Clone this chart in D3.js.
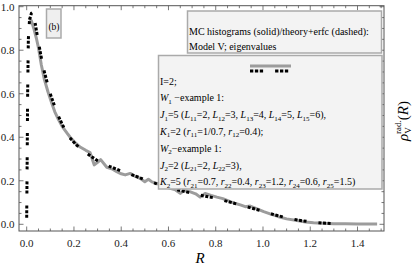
<!DOCTYPE html>
<html><head><meta charset="utf-8">
<script src="https://cdn.jsdelivr.net/npm/d3@7"></script>
<style>body{margin:0;background:#fff}svg{display:block}</style>
</head><body>
<script>
// MC histogram (solid gray)
const histX = [0.01,0.02,0.03,0.041,0.05,0.062,0.075,0.09,0.105,0.119,0.135,0.15,0.17,0.184,0.205,0.226,0.25,0.268,0.286,0.30,0.313,0.339,0.36,0.381,0.40,0.417,0.438,0.46,0.48,0.50,0.515,0.53,0.55,0.58,0.607,0.63,0.65,0.664,0.69,0.715,0.734,0.755,0.78,0.805,0.83,0.861,0.88,0.904,0.925,0.946,0.97,1.003,1.03,1.066,1.10,1.144,1.18,1.214,1.25,1.30,1.35,1.40,1.45,1.483];
const histY = [0.95,0.935,0.90,0.855,0.81,0.732,0.665,0.609,0.56,0.517,0.48,0.45,0.42,0.40,0.375,0.355,0.34,0.33,0.273,0.285,0.297,0.262,0.255,0.242,0.232,0.227,0.234,0.22,0.211,0.196,0.207,0.195,0.188,0.176,0.165,0.158,0.142,0.155,0.15,0.14,0.125,0.142,0.133,0.125,0.118,0.104,0.097,0.089,0.081,0.084,0.073,0.058,0.048,0.035,0.025,0.017,0.011,0.007,0.005,0.003,0.002,0.001,0.001,0.001];
// theory + erfc (dashed black)
const theoX = [0.0,0.002,0.004,0.007,0.012,0.02,0.027,0.035,0.048,0.069,0.098,0.128,0.15,0.176,0.21,0.254,0.30,0.353,0.40,0.452,0.50,0.55,0.6,0.65,0.7,0.75,0.8,0.85,0.9,0.95,1.0,1.05,1.1,1.15,1.2,1.25,1.3];
const theoY = [0.03,0.3,0.6,0.85,0.94,0.97,0.975,0.93,0.847,0.724,0.605,0.512,0.46,0.405,0.365,0.326,0.292,0.265,0.245,0.225,0.205,0.186,0.168,0.155,0.143,0.13,0.12,0.105,0.09,0.075,0.06,0.043,0.03,0.019,0.011,0.006,0.003];
const xTickLabels = ["0.0","0.2","0.4","0.6","0.8","1.0","1.2","1.4"];
const yTickLabels = ["0.0","0.2","0.4","0.6","0.8","1.0"];
const legendTitle = ["MC histograms (solid)/theory+erfc (dashed):","Model V; eigenvalues"];
// rich text lines: [text, style] style: n normal, i italic, s subscript
const legendLines = [
  [["I=2;","n"]],
  [["W","i"],["1","s"],[" \u2212example 1:","n"]],
  [["J","i"],["1","s"],["=5 (","n"],["L","i"],["11","s"],["=2, ","n"],["L","i"],["12","s"],["=3, ","n"],["L","i"],["13","s"],["=4, ","n"],["L","i"],["14","s"],["=5, ","n"],["L","i"],["15","s"],["=6),","n"]],
  [["K","i"],["1","s"],["=2 (","n"],["r","i"],["11","s"],["=1/0.7, ","n"],["r","i"],["12","s"],["=0.4);","n"]],
  [["W","i"],["2","s"],["\u2212example 1:","n"]],
  [["J","i"],["2","s"],["=2 (","n"],["L","i"],["21","s"],["=2, ","n"],["L","i"],["22","s"],["=3),","n"]],
  [["K","i"],["2","s"],["=5 (","n"],["r","i"],["21","s"],["=0.7, ","n"],["r","i"],["22","s"],["=0.4, ","n"],["r","i"],["23","s"],["=1.2, ","n"],["r","i"],["24","s"],["=0.6, ","n"],["r","i"],["25","s"],["=1.5)","n"]]
];

const W = 415, H = 276;
const svg = d3.select("body").append("svg").attr("width", W).attr("height", H)
  .attr("font-family", "'Liberation Serif', 'Times New Roman', Times, serif");
const frame = {l: 19, r: 384, t: 5.7, b: 231};
const x = d3.scaleLinear().domain([0, 1.4]).range([26.7, 357.5]);
const y = d3.scaleLinear().domain([0, 1]).range([224.3, 6.7]);
const xmin = x.invert(frame.l), xmax = x.invert(frame.r);
const ymin = y.invert(frame.b), ymax = y.invert(frame.t);

const frameCol = "#555";
svg.append("rect").attr("x", frame.l).attr("y", frame.t).attr("width", frame.r - frame.l).attr("height", frame.b - frame.t)
  .attr("fill", "none").attr("stroke", frameCol).attr("stroke-width", 1);

const xt = d3.range(0, 31).map(i => i * 0.05).filter(v => v >= xmin && v <= xmax);
const yt = d3.range(0, 21).map(i => i * 0.05).filter(v => v >= ymin && v <= ymax);
const isMajor = v => Math.abs(v / 0.2 - Math.round(v / 0.2)) < 1e-6;
const tk = svg.append("g").attr("stroke", frameCol).attr("stroke-width", 0.8);
xt.forEach(v => {
  const L = isMajor(v) ? 4.5 : 2.5, px = x(v);
  tk.append("line").attr("x1", px).attr("x2", px).attr("y1", frame.b).attr("y2", frame.b - L);
  tk.append("line").attr("x1", px).attr("x2", px).attr("y1", frame.t).attr("y2", frame.t + L);
});
yt.forEach(v => {
  const L = isMajor(v) ? 4.5 : 2.5, py = y(v);
  tk.append("line").attr("y1", py).attr("y2", py).attr("x1", frame.l).attr("x2", frame.l + L);
  tk.append("line").attr("y1", py).attr("y2", py).attr("x1", frame.r).attr("x2", frame.r - L);
});
xTickLabels.forEach(s => {
  svg.append("text").attr("x", x(+s)).attr("y", 247).attr("text-anchor", "middle")
    .attr("font-size", 11).attr("fill", "#222").text(s);
});
yTickLabels.forEach(s => {
  svg.append("text").attr("x", 14.5).attr("y", y(+s) + 3.8).attr("text-anchor", "end")
    .attr("font-size", 11).attr("fill", "#222").text(s);
});

svg.append("text").attr("x", 200).attr("y", 263).attr("text-anchor", "middle")
  .attr("font-size", 15).attr("font-style", "italic").text("R");
const yl = svg.append("text").attr("transform", "translate(408,121) rotate(-90)").attr("text-anchor", "middle").attr("font-size", 15);
yl.append("tspan").attr("font-style", "italic").text("\u03C1");
yl.append("tspan").attr("font-size", 9).attr("dy", 3).text("V");
yl.append("tspan").attr("font-size", 9).attr("dx", -6).attr("dy", -10).text("rad.");
yl.append("tspan").attr("dy", 7).text("(");
yl.append("tspan").attr("font-style", "italic").text("R");
yl.append("tspan").text(")");

svg.append("clipPath").attr("id", "c").append("rect").attr("x", frame.l).attr("y", frame.t)
  .attr("width", frame.r - frame.l).attr("height", frame.b - frame.t);

const line = d3.line().x(d => x(d[0])).y(d => y(d[1]));
const dashPat = "3,1.6,3,1.6,3,12";
svg.append("path").attr("clip-path", "url(#c)").datum(histX.map((v, i) => [v, histY[i]]))
  .attr("d", line).attr("fill", "none").attr("stroke", "#9c9c9c").attr("stroke-width", 3).attr("stroke-linejoin", "round");
svg.append("path").attr("clip-path", "url(#c)").datum(theoX.map((v, i) => [v, theoY[i]]))
  .attr("d", line).attr("fill", "none").attr("stroke", "#000").attr("stroke-width", 3)
  .attr("stroke-dasharray", dashPat);

svg.append("rect").attr("x", 46.5).attr("y", 9).attr("width", 14.5).attr("height", 29)
  .attr("fill", "#efefef").attr("stroke", "#aaa").attr("stroke-width", 1.5);
svg.append("text").attr("x", 54).attr("y", 30).attr("text-anchor", "middle").attr("font-size", 9.5).text("(b)");

svg.append("rect").attr("x", 187.5).attr("y", 11).attr("width", 194).attr("height", 42)
  .attr("fill", "#f3f3f3").attr("stroke", "#aaa").attr("stroke-width", 1.5);
legendTitle.forEach((s, i) => {
  svg.append("text").attr("x", 189).attr("y", 35 + i * 14.5).attr("font-size", 10).text(s);
});

svg.append("rect").attr("x", 158.5).attr("y", 55.5).attr("width", 223.5).attr("height", 133.5)
  .attr("fill", "#f3f3f3").attr("stroke", "#aaa").attr("stroke-width", 1.5);
svg.append("line").attr("x1", 250).attr("x2", 291).attr("y1", 66).attr("y2", 66)
  .attr("stroke", "#9c9c9c").attr("stroke-width", 3);
svg.append("line").attr("x1", 250).attr("x2", 291).attr("y1", 71).attr("y2", 71)
  .attr("stroke", "#000").attr("stroke-width", 3).attr("stroke-dasharray", "3.3,1.6,3.3,1.6,3.3,12");

legendLines.forEach((segs, i) => {
  const t = svg.append("text").attr("x", 160).attr("y", 84.5 + i * 16.8).attr("font-size", 10);
  let sub = false;
  segs.forEach(([s, st]) => {
    const ts = t.append("tspan").text(s);
    if (st === "i") ts.attr("font-style", "italic");
    if (st === "s") { ts.attr("font-size", 7).attr("dy", 2.5); sub = true; }
    else if (sub) { ts.attr("dy", -2.5); sub = false; }
  });
});
</script>
</body></html>
